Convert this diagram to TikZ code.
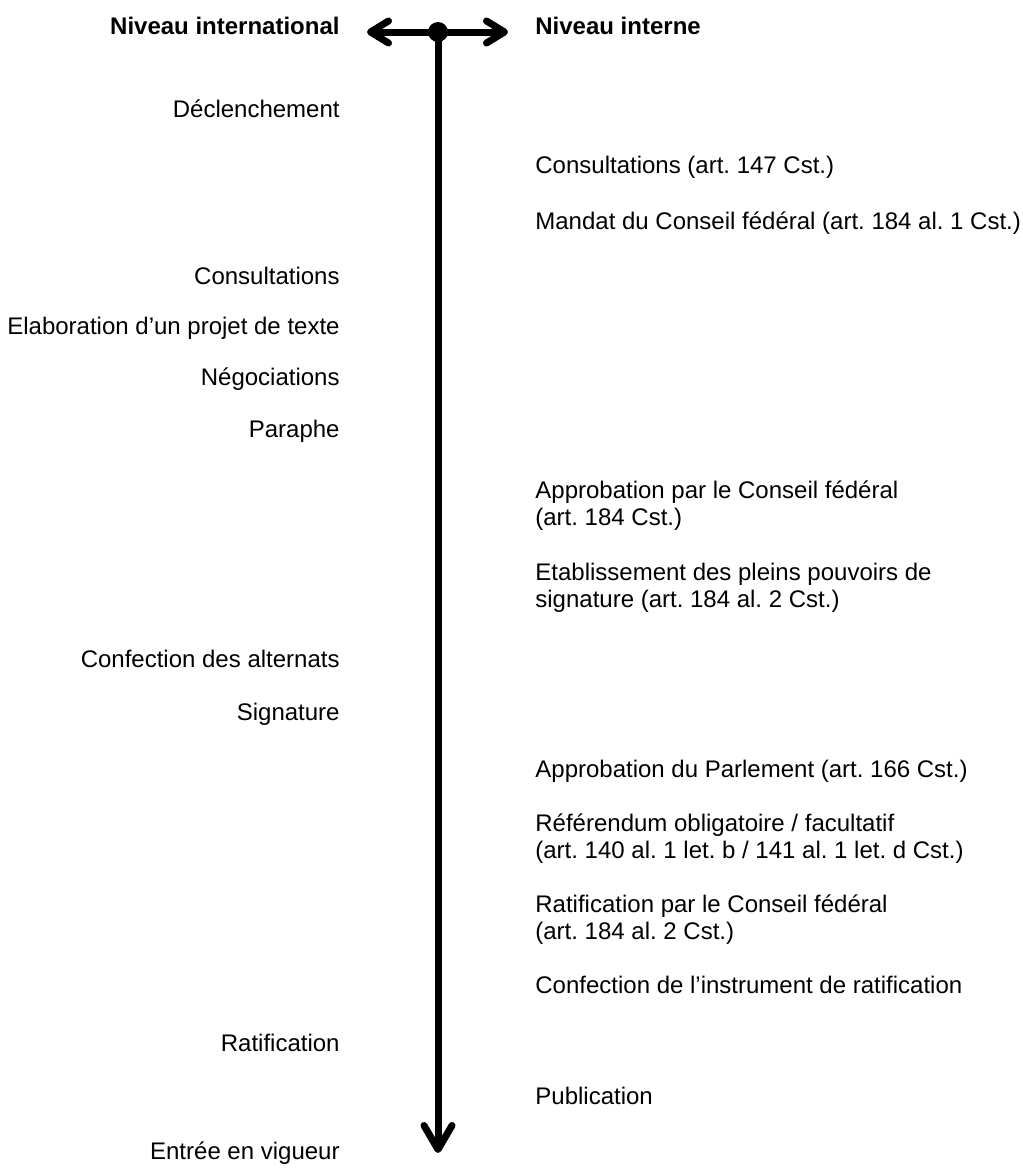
\documentclass[tikz,border=0pt]{standalone}
\usepackage{fontspec}
\setmainfont{Liberation Sans}
\usetikzlibrary{arrows.meta}
\frenchspacing
\newcommand{\twolines}[2]{\begin{tabular}[t]{@{}l@{}}#1\\#2\end{tabular}}
\begin{document}
\begin{tikzpicture}[x=0.5pt,y=-0.5pt,
  lbl/.style={inner sep=0pt, font=\fontsize{12}{13.8}\selectfont\frenchspacing},
  lefttxt/.style={lbl, anchor=base east},
  righttxt/.style={lbl, anchor=base west},
  head/.style={font=\fontsize{12}{13.8}\selectfont\bfseries},
  axis/.style={line width=3.5pt},
  smalltip/.tip={Straight Barb[length=9pt,width=11pt,round]},
  bigtip/.tip={Straight Barb[length=12pt,width=14pt,round]}]
\useasboundingbox (0,0) rectangle (1023,1168);

% axis coordinates
\coordinate (hub) at (438,32);
\coordinate (lefttip) at (367,32);
\coordinate (righttip) at (508,32);
\coordinate (bottomtip) at (438,1153);

\draw[axis, smalltip-smalltip] (lefttip) -- (righttip);
\draw[axis, -bigtip] (hub) -- (bottomtip);
\node[circle, fill, inner sep=0pt, minimum size=10pt] (dot) at (hub) {};

% headings
\node[lefttxt, head] (hint) at (340,34) {Niveau international};
\node[righttxt, head] (hnat) at (535,34) {Niveau interne};

% international level
\node[lefttxt] (l1) at (340,117) {Déclenchement};
\node[lefttxt] (l2) at (340,284) {Consultations};
\node[lefttxt] (l3) at (340,334) {Elaboration d’un projet de texte};
\node[lefttxt] (l4) at (340,385) {Négociations};
\node[lefttxt] (l5) at (340,437) {Paraphe};
\node[lefttxt] (l6) at (340,667) {Confection des alternats};
\node[lefttxt] (l7) at (340,720) {Signature};
\node[lefttxt] (l8) at (340,1051) {Ratification};
\node[lefttxt] (l9) at (340,1159) {Entrée en vigueur};

% internal level
\node[righttxt] (r1) at (535,173) {Consultations (art. 147 Cst.)};
\node[righttxt] (r2) at (535,229) {Mandat du Conseil fédéral (art. 184 al. 1 Cst.)};
\node[righttxt] (r3) at (535,498) {\twolines{Approbation par le Conseil fédéral}{(art. 184 Cst.)}};
\node[righttxt] (r4) at (535,580) {\twolines{Etablissement des pleins pouvoirs de}{signature (art. 184 al. 2 Cst.)}};
\node[righttxt] (r5) at (535,777) {Approbation du Parlement (art. 166 Cst.)};
\node[righttxt] (r6) at (535,831) {\twolines{Référendum obligatoire / facultatif}{(art. 140 al. 1 let. b / 141 al. 1 let. d Cst.)}};
\node[righttxt] (r7) at (535,912) {\twolines{Ratification par le Conseil fédéral}{(art. 184 al. 2 Cst.)}};
\node[righttxt] (r8) at (535,993) {Confection de l’instrument de ratification};
\node[righttxt] (r9) at (535,1104) {Publication};
\end{tikzpicture}
\end{document}
